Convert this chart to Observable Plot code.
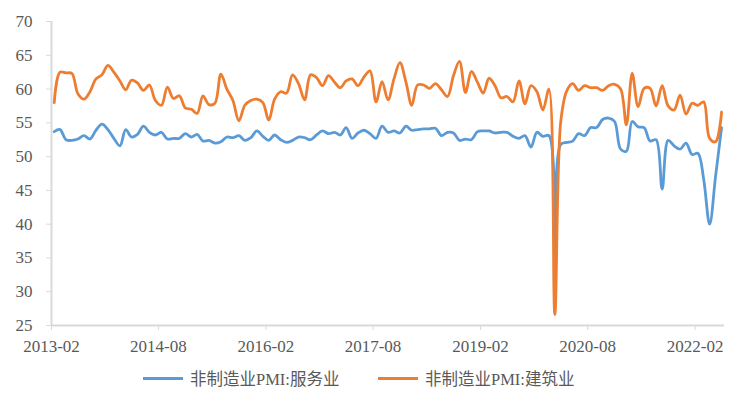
<!DOCTYPE html>
<html>
<head>
<meta charset="utf-8">
<script src="https://cdn.jsdelivr.net/npm/d3@7"></script>
<script src="https://cdn.jsdelivr.net/npm/@observablehq/plot@0.6"></script>
<style>
  html, body { margin: 0; padding: 0; background: #fff; }
  #wrap { position: relative; width: 747px; height: 407px; overflow: hidden; }
  .leg { position: absolute; top: 366px; height: 24px; display: flex; align-items: center;
         font-family: "Liberation Serif", "Noto Sans CJK SC", serif; font-size: 16.5px; color: #595959; white-space: nowrap; }
  .sw { display: inline-block; width: 40px; height: 3px; margin-right: 7px; }
</style>
</head>
<body>
<div id="wrap"></div>
<script>
// ---- data (monthly, 2013-02 .. 2022-06) ----
const startMonth = "2013-02";
const endMonth = "2022-07"; // exclusive
const services = [
  53.7, 54.0, 52.5, 52.4, 52.6, 53.1, 52.6, 53.9, 54.8, 54.0, 52.7, 51.6,
  54.0, 52.9, 53.3, 54.5, 53.6, 53.2, 53.6, 52.6, 52.7, 52.7, 53.4, 52.9,
  53.3, 52.3, 52.4, 52.0, 52.2, 52.9, 52.8, 53.1, 52.4, 52.8, 53.8, 53.0,
  52.4, 53.2, 52.5, 52.1, 52.4, 52.9, 52.8, 52.5, 53.2, 53.8, 53.4, 53.6,
  53.2, 54.3, 52.7, 53.5, 53.9, 53.4, 52.7, 54.5, 53.6, 53.8, 53.5, 54.5,
  53.9, 54.0, 54.1, 54.1, 54.2, 53.1, 53.6, 53.5, 52.4, 52.6, 52.5, 53.7,
  53.8, 53.8, 53.5, 53.6, 53.6, 53.0, 52.7, 53.1, 51.4, 53.6, 53.0, 53.1,
  30.1, 51.8, 52.1, 52.3, 53.4, 53.1, 54.3, 54.3, 55.5, 55.7, 55.2, 51.1,
  50.8, 55.2, 54.4, 54.3, 52.3, 52.5, 45.2, 52.4, 51.6, 51.1, 52.0, 50.3,
  50.5, 46.7, 40.0, 47.1, 54.3
];
const construction = [
  58.0, 62.5, 62.4, 62.3, 59.3, 58.5, 59.6, 61.5, 62.1, 63.5, 62.5, 61.2,
  59.9, 61.3, 60.9, 59.8, 60.6, 58.3, 57.6, 60.3, 58.6, 59.0, 57.2, 57.0,
  56.4, 59.0, 57.7, 57.9, 62.2, 60.0, 58.3, 55.3, 57.6, 58.3, 58.5, 58.0,
  55.4, 58.5, 59.6, 59.4, 62.1, 60.8, 58.4, 62.1, 61.7, 60.5, 62.0, 61.0,
  60.2, 61.2, 61.5, 60.5, 61.8, 62.7, 58.1, 61.1, 58.4, 61.5, 63.9, 61.0,
  57.6, 60.6, 60.6, 60.1, 60.8, 59.9, 58.9, 62.0, 64.1, 59.5, 62.6, 61.0,
  59.4, 61.6, 60.5, 58.7, 58.9, 58.1, 61.2, 57.8, 60.5, 59.6, 56.9, 60.0,
  26.6, 55.1, 59.7, 60.8, 59.8, 60.5, 60.2, 60.2, 59.8, 60.5, 60.7, 60.0,
  54.7, 62.3, 57.4, 60.1, 60.1, 57.5, 60.5, 57.5, 56.9, 59.1, 56.3, 57.9,
  57.6, 58.1, 52.7, 52.2, 56.6
];
const xTickLabels = ["2013-02", "2014-08", "2016-02", "2017-08", "2019-02", "2020-08", "2022-02"];
const yTicks = [25, 30, 35, 40, 45, 50, 55, 60, 65, 70];
const seriesNames = ["非制造业PMI:服务业", "非制造业PMI:建筑业"];
const seriesColors = ["#5B9BD5", "#ED7D31"];

// ---- build table ----
const toDate = s => new Date(s + "-01T00:00:00Z");
const months = d3.utcMonth.range(toDate(startMonth), toDate(endMonth));
const rows = months.map((m, i) => ({
  mid: new Date((+m + +d3.utcMonth.offset(m, 1)) / 2),
  services: services[i],
  construction: construction[i]
}));
const tickDates = xTickLabels.map(toDate);
const labelOf = new Map(xTickLabels.map(s => [+toDate(s), s]));
const x0 = toDate(startMonth), x1 = toDate(endMonth);

const chart = Plot.plot({
  width: 747,
  height: 360,
  marginLeft: 51,
  marginRight: 23,
  marginTop: 21,
  marginBottom: 35,
  style: { fontFamily: "'Liberation Serif', serif", fontSize: "17px", color: "#595959", background: "#fff" },
  x: { type: "utc", domain: [x0, x1] },
  y: { domain: [25, 70] },
  marks: [
    Plot.ruleX([x0], { stroke: "#d9d9d9", strokeWidth: 2 }),
    Plot.ruleY([25], { stroke: "#d9d9d9", strokeWidth: 2 }),
    Plot.axisY({ ticks: yTicks, tickSize: 5, tickPadding: 14, stroke: "#d9d9d9", fill: "#595959", label: null, fontSize: 17 }),
    Plot.axisX({ ticks: tickDates, tickSize: 5, tickPadding: 9, stroke: "#d9d9d9", fill: "#595959", label: null, fontSize: 17,
                 tickFormat: d => labelOf.get(+d) }),
    Plot.line(rows, { x: "mid", y: "services", stroke: seriesColors[0], strokeWidth: 2.8, curve: "catmull-rom" }),
    Plot.line(rows, { x: "mid", y: "construction", stroke: seriesColors[1], strokeWidth: 2.8, curve: "catmull-rom" })
  ]
});

const wrap = document.getElementById("wrap");
wrap.appendChild(chart);

const legLefts = [143, 378];
seriesNames.forEach((name, i) => {
  const d = document.createElement("div");
  d.className = "leg";
  d.style.left = legLefts[i] + "px";
  const sw = document.createElement("span");
  sw.className = "sw";
  sw.style.background = seriesColors[i];
  const t = document.createElement("span");
  t.textContent = name;
  d.appendChild(sw);
  d.appendChild(t);
  wrap.appendChild(d);
});
</script>
</body>
</html>
